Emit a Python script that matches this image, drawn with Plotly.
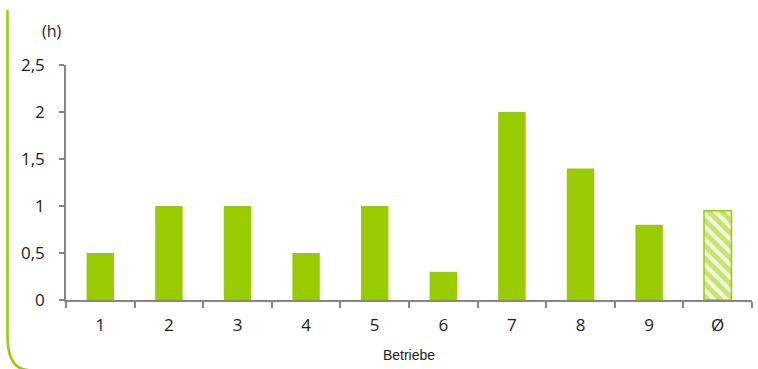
import plotly.graph_objects as go

# Time per farm (hours)
betriebe = ["1", "2", "3", "4", "5", "6", "7", "8", "9"]
stunden = [0.5, 1.0, 1.0, 0.5, 1.0, 0.3, 2.0, 1.4, 0.8]
mittel_label = "Ø"
mittel_wert = 0.95

GREEN = "#99CC00"
AXIS = "#868686"

W, H = 758, 369
ML, MR, MT, MB = 66, 6, 65, 69
PW, PH = W - ML - MR, H - MT - MB

fig = go.Figure()
fig.add_trace(go.Bar(
    x=betriebe, y=stunden,
    marker=dict(color=GREEN, line=dict(width=0)),
    width=0.4, showlegend=False,
))
fig.add_trace(go.Bar(
    x=[mittel_label], y=[mittel_wert],
    marker=dict(
        color="#F4FADF",
        line=dict(color=GREEN, width=1.5),
        pattern=dict(shape="\\", fgcolor=GREEN, bgcolor="#F4FADF",
                     size=9, solidity=0.55),
    ),
    width=0.4, showlegend=False,
))


def px_x(p):
    return (p - ML) / PW


def px_y(p):
    return 1 - (p - MT) / PH


# rounded bracket on the left edge
path = (f"M {px_x(7.5)},{px_y(10)} L {px_x(7.5)},{px_y(336)} "
        f"Q {px_x(7.5)},{px_y(369)} {px_x(28)},{px_y(370)}")
fig.add_shape(type="path", path=path, xref="paper", yref="paper",
              line=dict(color=GREEN, width=2.5))

fig.add_annotation(text="(h)", x=px_x(52), y=px_y(31), xref="paper", yref="paper",
                   xanchor="center", yanchor="middle",
                   showarrow=False, font=dict(size=16, color="#222"))

fig.update_layout(
    width=W, height=H,
    margin=dict(l=ML, r=MR, t=MT, b=MB),
    plot_bgcolor="white", paper_bgcolor="white",
    font=dict(family="Open Sans, Lato, sans-serif", size=17, color="#222"),
    xaxis=dict(
        type="category", tickson="boundaries",
        showline=True, linecolor=AXIS, linewidth=1.5,
        ticks="outside", ticklen=6, tickcolor=AXIS, tickwidth=1.5,
        showgrid=False, range=[-0.5, 9.5],
        tickfont=dict(size=17), ticklabelstandoff=9,
        title=dict(text="Betriebe", font=dict(family="Liberation Sans, Arial", size=14),
                   standoff=15),
    ),
    yaxis=dict(
        range=[0, 2.5],
        showline=True, linecolor=AXIS, linewidth=1.5,
        ticks="outside", ticklen=5, tickcolor=AXIS, tickwidth=1.5,
        showgrid=False, zeroline=False,
        tickvals=[0, 0.5, 1, 1.5, 2, 2.5],
        ticktext=["0", "0,5", "1", "1,5", "2", "2,5"],
        tickfont=dict(size=17), ticklabelstandoff=11,
    ),
)

fig.write_html("out.html")
